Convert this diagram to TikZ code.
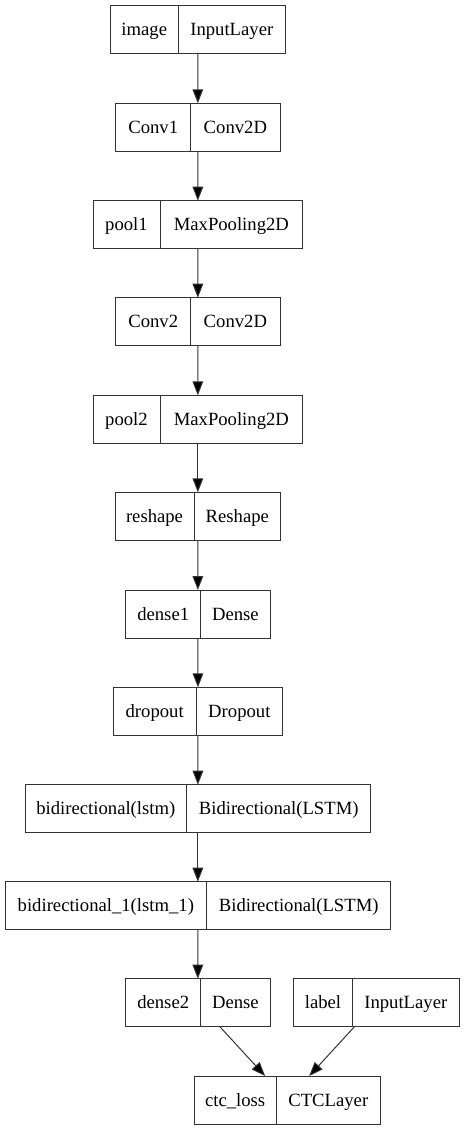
\documentclass[tikz,border=0pt]{standalone}
\usepackage{fontspec}
\setmainfont{Liberation Serif}
\usetikzlibrary{arrows.meta,fit}
\begin{document}
\begin{tikzpicture}[x=0.75pt,y=-0.75pt,
  field/.style={draw=black!80, line width=0.75pt, rectangle, inner sep=0pt, outer sep=0pt,
    minimum height=36pt, minimum width={#1*0.75pt}, anchor=north west,
    text height=12pt, text depth=3pt, font=\fontsize{14pt}{16pt}\selectfont},
  rec/.style={inner sep=0pt, outer sep=0pt, draw=none},
  conn/.style={draw=black!80, line width=0.75pt, -{Triangle[length=10.5pt,width=8pt,fill=black]}}]
\useasboundingbox (0,0) rectangle (465,1131);
% row 1
\node[field=68] (a1) at (110.3,5.7) {image};
\node[field=107] (b1) at (a1.north east) {InputLayer};
\node[rec, fit=(a1)(b1)] (n1) {};
% row 2
\node[field=75] (a2) at (115.7,103.3) {Conv1};
\node[field=89.3] (b2) at (a2.north east) {Conv2D};
\node[rec, fit=(a2)(b2)] (n2) {};
% row 3
\node[field=67] (a3) at (93,200.7) {pool1};
\node[field=142.7] (b3) at (a3.north east) {MaxPooling2D};
\node[rec, fit=(a3)(b3)] (n3) {};
% row 4
\node[field=75] (a4) at (115.7,297.7) {Conv2};
\node[field=89.3] (b4) at (a4.north east) {Conv2D};
\node[rec, fit=(a4)(b4)] (n4) {};
% row 5
\node[field=67] (a5) at (93,395.3) {pool2};
\node[field=142.7] (b5) at (a5.north east) {MaxPooling2D};
\node[rec, fit=(a5)(b5)] (n5) {};
% row 6
\node[field=79] (a6) at (115,492.3) {reshape};
\node[field=86.7] (b6) at (a6.north east) {Reshape};
\node[rec, fit=(a6)(b6)] (n6) {};
% row 7
\node[field=75] (a7) at (125.7,590) {dense1};
\node[field=69.3] (b7) at (a7.north east) {Dense};
\node[rec, fit=(a7)(b7)] (n7) {};
% row 8
\node[field=82.7] (a8) at (113.3,687.3) {dropout};
\node[field=86.7] (b8) at (a8.north east) {Dropout};
\node[rec, fit=(a8)(b8)] (n8) {};
% row 9
\node[field=161.7] (a9) at (25,784.7) {bidirectional(lstm)};
\node[field=184] (b9) at (a9.north east) {Bidirectional(LSTM)};
\node[rec, fit=(a9)(b9)] (n9) {};
% row 10
\node[field=201.7] (a10) at (5,881.7) {bidirectional\_1(lstm\_1)};
\node[field=184] (b10) at (a10.north east) {Bidirectional(LSTM)};
\node[rec, fit=(a10)(b10)] (n10) {};
% row 11
\node[field=75] (a11) at (125.7,978.7) {dense2};
\node[field=69.3] (b11) at (a11.north east) {Dense};
\node[rec, fit=(a11)(b11)] (n11) {};
% label
\node[field=58.6] (a12) at (293.7,978.7) {label};
\node[field=107] (b12) at (a12.north east) {InputLayer};
\node[rec, fit=(a12)(b12)] (n12) {};
% ctc
\node[field=82.3] (a13) at (194,1076) {ctc\_loss};
\node[field=104] (b13) at (a13.north east) {CTCLayer};
\node[rec, fit=(a13)(b13)] (n13) {};
% connectors
\draw[conn] (n1) -- (n2);
\draw[conn] (n2) -- (n3);
\draw[conn] (n3) -- (n4);
\draw[conn] (n4) -- (n5);
\draw[conn] (n5) -- (n6);
\draw[conn] (n6) -- (n7);
\draw[conn] (n7) -- (n8);
\draw[conn] (n8) -- (n9);
\draw[conn] (n9) -- (n10);
\draw[conn] (n10) -- (n11);
\draw[conn] (n11) -- (n13);
\draw[conn] (n12) -- (n13);
\end{tikzpicture}
\end{document}
